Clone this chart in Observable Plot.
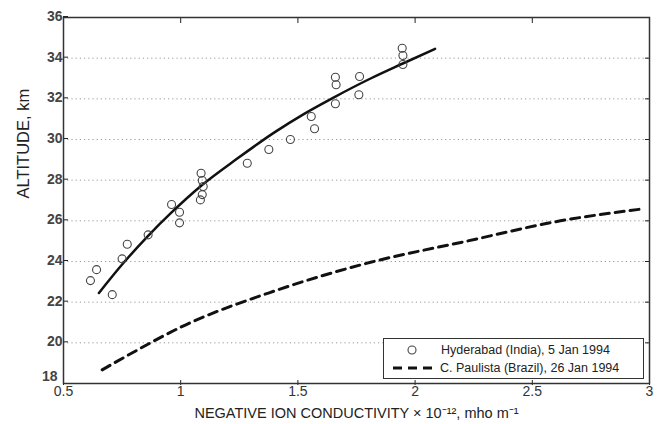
<!DOCTYPE html>
<html>
<head>
<meta charset="utf-8">
<script src="https://cdn.jsdelivr.net/npm/d3@7"></script>
<script src="https://cdn.jsdelivr.net/npm/@observablehq/plot@0.6"></script>
<style>
  html, body { margin: 0; padding: 0; background: #fff; }
  #wrap { position: relative; width: 660px; height: 424px; font-family: "Liberation Sans", Arial, sans-serif; }
  #legend { position: absolute; left: 383px; top: 338px; width: 259px; height: 39px; border: 1.5px solid #333; background: #fff; font-size: 12.5px; color: #222; }
  #legend .row { position: absolute; left: 0; height: 18px; line-height: 18px; white-space: nowrap; }
  #legend svg { position: absolute; left: 0; top: 0; }
</style>
</head>
<body>
<div id="wrap"></div>
<script>
// Observed points (Hyderabad, India, 5 Jan 1994)
const hydX = [0.615,0.641,0.708,0.750,0.772,0.861,0.961,0.995,0.995,1.084,1.092,1.096,1.092,1.087,1.284,1.376,1.468,1.571,1.557,1.660,1.663,1.660,1.760,1.763,1.948,1.948,1.945];
const hydY = [23.06,23.60,22.37,24.13,24.85,25.31,26.80,26.42,25.90,27.03,27.29,27.69,27.98,28.34,28.83,29.51,30.00,30.53,31.13,31.76,32.69,33.06,32.20,33.10,33.69,34.13,34.49];
// Fitted curve through Hyderabad points
const fitX = [0.651,0.75,0.86,0.96,1.09,1.24,1.40,1.525,1.65,1.81,1.95,2.085];
const fitY = [22.45,23.85,25.25,26.40,27.75,29.05,30.35,31.25,32.05,33.00,33.75,34.46];
// C. Paulista (Brazil), 26 Jan 1994 profile
const cpX = [0.665,0.80,1.00,1.40,1.81,2.22,2.62,2.98];
const cpY = [18.67,19.55,20.77,22.55,23.96,25.00,26.00,26.60];
// Axes
const xTicks = [0.5,1,1.5,2,2.5,3];
const yTicks = [18,20,22,24,26,28,30,32,34,36];
const gridY = [20,22,24,26,28,30,32,34];
const legendLabels = ["Hyderabad (India), 5 Jan 1994", "C. Paulista (Brazil), 26 Jan 1994"];
const xLabel = "NEGATIVE ION CONDUCTIVITY × 10⁻¹², mho m⁻¹";
const yLabel = "ALTITUDE, km";

const pts = hydX.map((x, i) => ({x, y: hydY[i]}));
const fit = fitX.map((x, i) => ({x, y: fitY[i]}));
const cp = cpX.map((x, i) => ({x, y: cpY[i]}));
const yMain = yTicks.slice(1);   // labels 20..36
const yCorner = yTicks.slice(0, 1); // label 18, nudged up off the x labels

const yAxisStyle = {anchor: "left", tickSize: -5, tickPadding: 6, fontSize: 14, fontWeight: "bold", fill: "#444", tickFormat: d => String(d), label: null};

const chart = Plot.plot({
  width: 660, height: 424,
  marginLeft: 63, marginRight: 11, marginTop: 17, marginBottom: 41,
  style: {fontFamily: "'Liberation Sans', Arial, sans-serif", fontSize: "14px", color: "#222", background: "#fff"},
  x: {domain: [0.5, 3]},
  y: {domain: [18, 36]},
  marks: [
    Plot.ruleY(gridY, {stroke: "#999", strokeWidth: 1, strokeDasharray: "1.2,3"}),
    Plot.line(cp, {x: "x", y: "y", stroke: "#111", strokeWidth: 3, strokeDasharray: "9,6", curve: "monotone-x"}),
    Plot.line(fit, {x: "x", y: "y", stroke: "#111", strokeWidth: 2.5, curve: "monotone-x"}),
    Plot.dot(pts, {x: "x", y: "y", r: 4, stroke: "#444", strokeWidth: 1.1, fill: "none"}),
    Plot.axisX({anchor: "bottom", ticks: xTicks, tickSize: -5, tickPadding: 6, dy: 2, fontSize: 14, fill: "#333", tickFormat: d => String(d), label: null}),
    Plot.axisX({anchor: "top", ticks: xTicks, tickSize: -5, tickFormat: () => "", label: null}),
    Plot.axisY({...yAxisStyle, ticks: yMain, dy: -1}),
    Plot.axisY({...yAxisStyle, ticks: yCorner, tickSize: 0, tickPadding: 6, dy: -7}),
    Plot.axisY({anchor: "right", ticks: yTicks, tickSize: -5, tickFormat: () => "", label: null}),
    Plot.frame({stroke: "#333", strokeWidth: 1.5}),
    Plot.text([xLabel], {frameAnchor: "bottom", dy: 34, fontSize: 14.5, fill: "#222", text: d => d}),
    Plot.text([yLabel], {frameAnchor: "left", dx: -40, dy: -2, rotate: -90, fontSize: 16.5, fill: "#222", text: d => d})
  ]
});
const wrap = document.getElementById("wrap");
wrap.appendChild(chart);

// Legend overlay
const leg = document.createElement("div");
leg.id = "legend";
leg.innerHTML = `
<svg width="259" height="39">
  <circle cx="28" cy="11" r="4" fill="none" stroke="#444" stroke-width="1.1"/>
  <line x1="9" y1="29" x2="54" y2="29" stroke="#111" stroke-width="3" stroke-dasharray="9,6"/>
</svg>
<div class="row" style="top:2px;left:57px">${legendLabels[0]}</div>
<div class="row" style="top:20px;left:56px">${legendLabels[1]}</div>`;
wrap.appendChild(leg);
</script>
</body>
</html>
